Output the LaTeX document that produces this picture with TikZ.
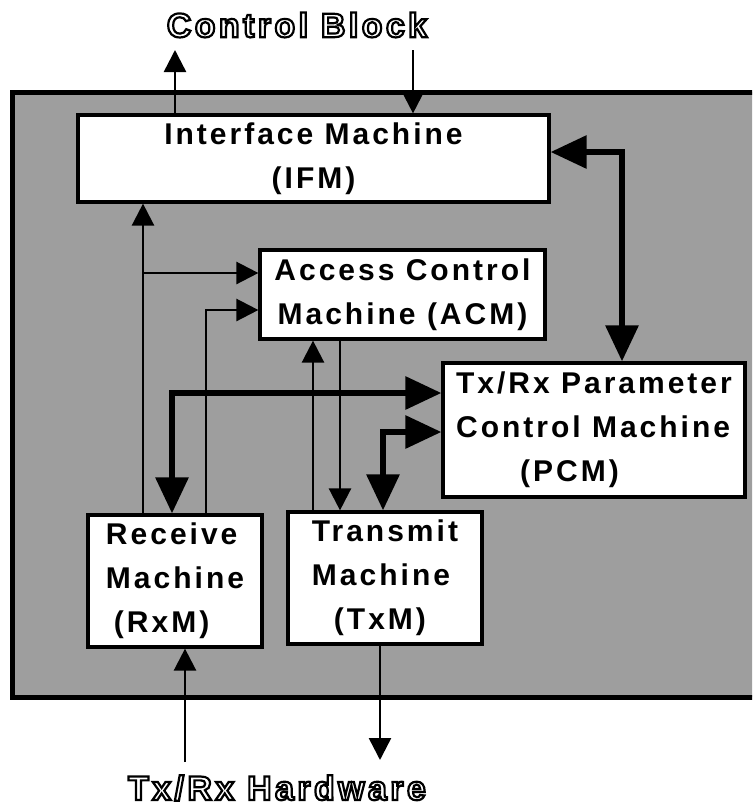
\documentclass[tikz,border=0pt]{standalone}
\usepackage{fontspec}
\setmainfont{Liberation Sans}
\newfontfamily\machfont[LetterSpace=10]{Liberation Sans}
\usepackage{tikz}
\usetikzlibrary{arrows.meta}

% Konturschrift (Textmodus 1 = nur Umriss)
\newcommand{\hollowtext}[1]{\special{pdf:literal direct q 1 Tr 1.1 w}#1\special{pdf:literal direct Q}}

\tikzset{
  machine/.style={draw, line width=1.6pt, fill=white, inner sep=0pt,
    font=\machfont\bfseries\fontsize{15}{22}\selectfont},
  sig/.style={line width=1.25pt, -{Triangle[width=11pt,length=11pt]}},
  duplex/.style={line width=3pt,
    {Triangle[width=16pt,length=18pt]}-{Triangle[width=16pt,length=18pt]}},
  hollow/.style={font=\machfont\bfseries\fontsize{17}{19}\selectfont}
}

\begin{document}
\begin{tikzpicture}[x=0.5pt,y=-0.5pt]
\clip (0,0) rectangle (752,810);

% Rahmen
\draw[line width=2.5pt, fill=black!38] (12,92) rectangle (790,697);

% Maschinen
\node[machine, align=center, minimum width=235.5pt, minimum height=43.5pt] (IFM) at (313.5,158.5) {Interface Machine\\(IFM)};
\node[machine, align=center, minimum width=142.5pt, minimum height=44.5pt] (ACM) at (402.5,294.5) {Access Control\\Machine (ACM)};
\node[machine, align=left, minimum width=151pt, minimum height=67pt] (PCM) at (594,430) {Tx/Rx Parameter\\Control Machine\\\hspace*{32pt}(PCM)};
\node[machine, align=left, minimum width=87pt, minimum height=66pt] (RxM) at (175,581) {Receive\\Machine\\\hspace*{4pt}(RxM)};
\node[machine, align=left, minimum width=97pt, minimum height=66pt] (TxM) at (385,578) {Transmit\\Machine\\\hspace*{11pt}(TxM)};

% Control Block
\coordinate (cbup) at (175,50);
\coordinate (cbdown) at (413,50);
\draw[sig] (IFM.north -| cbup) -- (cbup);
\draw[sig] (cbdown) -- (cbdown |- IFM.north);

% IFM <-> PCM
\coordinate (ifmpcm) at (622,152);
\draw[duplex] (ifmpcm -| IFM.east) -| (ifmpcm |- PCM.north);

% RxM
\coordinate (rxa) at (143,273);
\coordinate (rxb) at (206,310);
\coordinate (rxp) at (172,393);
\draw[sig] (RxM.north -| rxa) -- (rxa |- IFM.south);
\draw[sig] (rxa) -- (rxa -| ACM.west);
\draw[sig] (RxM.north -| rxb) -- (rxb) -- (rxb -| ACM.west);
\draw[duplex] (RxM.north -| rxp) -- (rxp) -- (rxp -| PCM.west);

% TxM
\coordinate (txa) at (313,0);
\coordinate (txb) at (340,0);
\coordinate (txp) at (383,432);
\draw[sig] (TxM.north -| txa) -- (txa |- ACM.south);
\draw[sig] (ACM.south -| txb) -- (txb |- TxM.north);
\draw[duplex] (TxM.north -| txp) -- (txp) -- (txp -| PCM.west);

% Hardware
\coordinate (hwin) at (185,762);
\coordinate (hwout) at (380,760);
\draw[sig] (hwin) -- (hwin |- RxM.south);
\draw[sig] (TxM.south -| hwout) -- (hwout);

% Beschriftung aussen
\node[hollow] (cblock) at (297,25) {\hollowtext{Control Block}};
\node[hollow] (hw) at (277,788) {\hollowtext{Tx/Rx Hardware}};

\end{tikzpicture}
\end{document}
